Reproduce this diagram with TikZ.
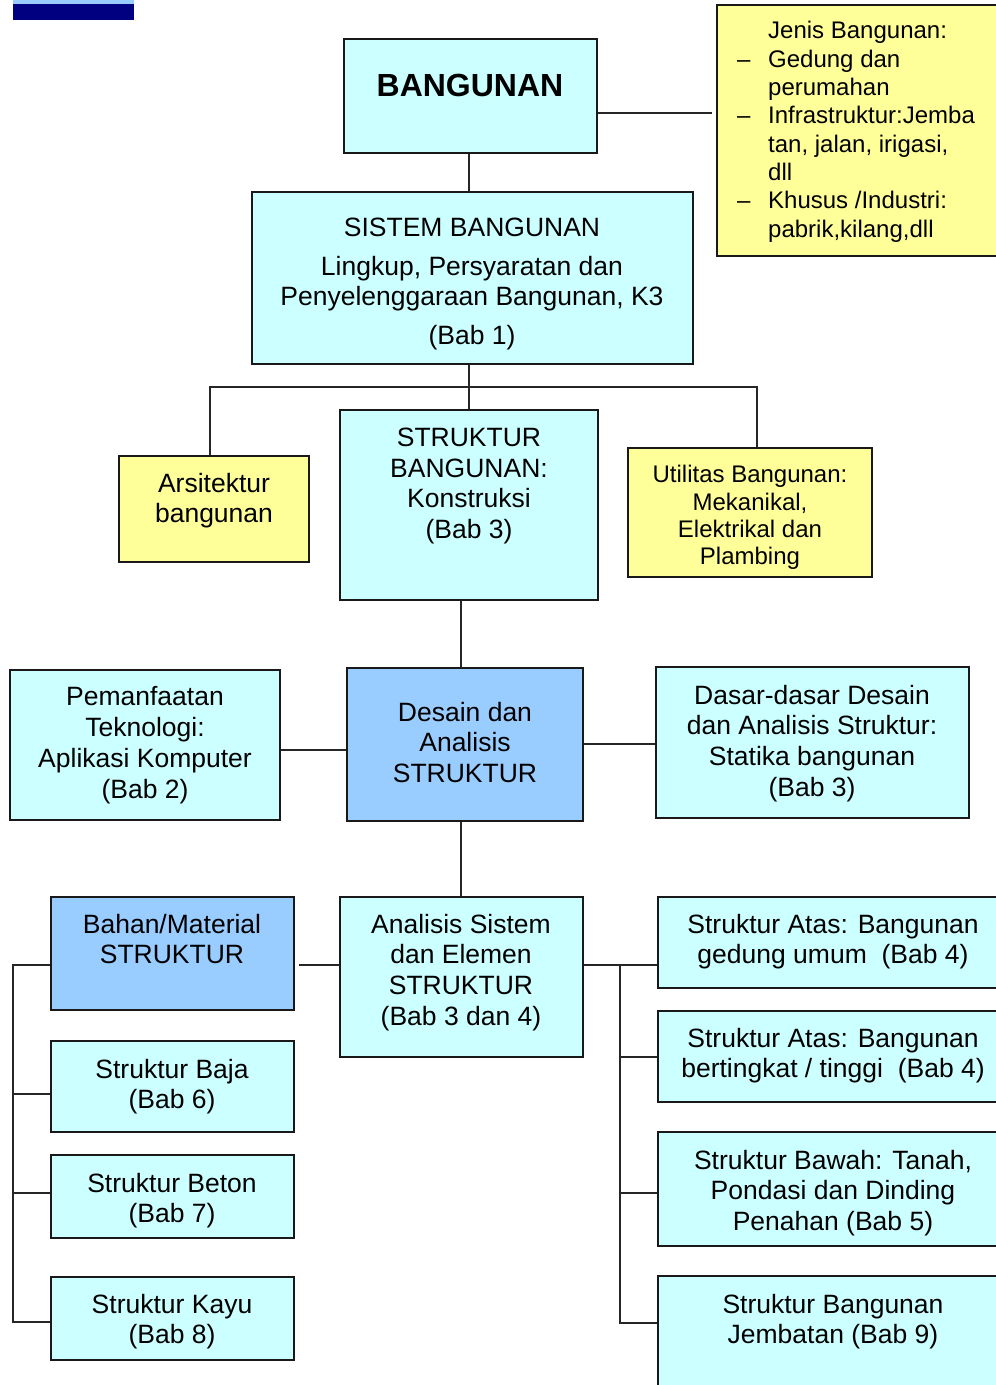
\documentclass[tikz,border=0pt]{standalone}
\usepackage{fontspec}
\setmainfont{Liberation Sans}
\usetikzlibrary{fit}
\definecolor{cyanf}{HTML}{CCFFFF}
\definecolor{yellf}{HTML}{FFFF99}
\definecolor{bluef}{HTML}{99CCFF}
\definecolor{navy}{HTML}{000080}
\tikzset{
  box/.style={draw=black!90, line width=1.9pt, inner sep=0pt},
  cyanbox/.style={box, fill=cyanf},
  yellbox/.style={box, fill=yellf},
  bluebox/.style={box, fill=bluef},
  txt/.style={align=center, inner sep=0pt, anchor=north, font=\fontsize{26.5}{30.7}\selectfont},
  smalltxt/.style={txt, font=\fontsize{24}{27.3}\selectfont},
  conn/.style={line width=1.9pt, draw=black!85},
}
\newcommand\mybox[6]{\node[#2, fit={(#3,#4) (#5,#6)}] (#1) {};}
\begin{document}
\begin{tikzpicture}[x=1pt,y=-1pt]
\useasboundingbox (0,0) rectangle (996,1385);
\clip (0,0) rectangle (996,1385);
\fill[white] (0,0) rectangle (996,1385);
% top-left bar
\fill[bluef] (13,0) rectangle (134,4);
\fill[navy] (13,4) rectangle (134,20);

% boxes
\mybox{bang}{cyanbox}{344}{39}{597}{153}
\mybox{jenis}{yellbox}{717}{5}{1012}{256}
\mybox{sis}{cyanbox}{252}{192}{693}{364}
\mybox{arsi}{yellbox}{119}{456}{309}{562}
\mybox{struk}{cyanbox}{340}{410}{598}{600}
\mybox{util}{yellbox}{628}{448}{872}{577}
\mybox{pem}{cyanbox}{10}{670}{280}{820}
\mybox{des}{bluebox}{347}{668}{583}{821}
\mybox{dasar}{cyanbox}{656}{667}{969}{818}
\mybox{anal}{cyanbox}{340}{897}{583}{1057}
\mybox{bahan}{bluebox}{51}{897}{294}{1010}
\mybox{baja}{cyanbox}{51}{1041}{294}{1132}
\mybox{beton}{cyanbox}{51}{1155}{294}{1238}
\mybox{kayu}{cyanbox}{51}{1277}{294}{1360}
\mybox{atas1}{cyanbox}{658}{897}{1012}{988}
\mybox{atas2}{cyanbox}{658}{1011}{1012}{1102}
\mybox{bawah}{cyanbox}{658}{1132}{1012}{1246}
\mybox{jemb}{cyanbox}{658}{1276}{1012}{1400}

% texts
\node[txt, anchor=center, font=\fontsize{32}{36}\selectfont\bfseries] (t-bang) at (470,85) {BANGUNAN};
\node[smalltxt, align=left, anchor=north west, font=\fontsize{24}{28.3}\selectfont] (t-jenis) at (737,21.4) {%
\makebox[31pt][l]{}Jenis Bangunan:\\
\makebox[31pt][l]{\textendash}Gedung dan\\
\makebox[31pt][l]{}perumahan\\
\makebox[31pt][l]{\textendash}Infrastruktur:Jemba\\
\makebox[31pt][l]{}tan, jalan, irigasi,\\
\makebox[31pt][l]{}dll\\
\makebox[31pt][l]{\textendash}Khusus /Industri:\\
\makebox[31pt][l]{}pabrik,kilang,dll};
\node[txt] (t-sis) at (472,217.6) {SISTEM BANGUNAN\\[8pt]Lingkup, Persyaratan dan\\Penyelenggaraan Bangunan, K3\\[8pt](Bab 1)};
\node[txt] (t-arsi) at (214,472.6) {Arsitektur\\bangunan};
\node[txt] (t-struk) at (469,427.6) {STRUKTUR\\BANGUNAN:\\Konstruksi\\(Bab 3)};
\node[smalltxt] (t-util) at (750,465.4) {Utilitas Bangunan:\\Mekanikal,\\Elektrikal dan\\Plambing};
\node[txt] (t-pem) at (145,686.6) {Pemanfaatan\\Teknologi:\\Aplikasi Komputer\\(Bab 2)};
\node[txt] (t-des) at (465,701.6) {Desain dan\\Analisis\\STRUKTUR};
\node[txt] (t-dasar) at (812,684.6) {Dasar-dasar Desain\\dan Analisis Struktur:\\Statika bangunan\\(Bab 3)};
\node[txt] (t-anal) at (461,913.6) {Analisis Sistem\\dan Elemen\\STRUKTUR\\(Bab 3 dan 4)};
\node[txt] (t-bahan) at (172,913.6) {Bahan/Material\\STRUKTUR};
\node[txt] (t-baja) at (172,1058.6) {Struktur Baja\\(Bab 6)};
\node[txt] (t-beton) at (172,1172.6) {Struktur Beton\\(Bab 7)};
\node[txt] (t-kayu) at (172,1293.6) {Struktur Kayu\\(Bab 8)};
\node[txt] (t-atas1) at (833,913.6) {Struktur Atas: Bangunan\\gedung umum\ \ (Bab 4)};
\node[txt] (t-atas2) at (833,1027.6) {Struktur Atas: Bangunan\\bertingkat / tinggi\ \ (Bab 4)};
\node[txt] (t-bawah) at (833,1149.6) {Struktur Bawah: Tanah,\\Pondasi dan Dinding\\Penahan (Bab 5)};
\node[txt] (t-jemb) at (833,1293.6) {Struktur Bangunan\\Jembatan (Bab 9)};

% connector helper coordinates
\coordinate (busA) at (469,387);
\coordinate (busAl) at (210,387);
\coordinate (busAr) at (757,387);
\coordinate (yJ) at (0,113);
\coordinate (xS) at (461,0);
\coordinate (yP) at (0,750);
\coordinate (yD) at (0,744);
\coordinate (tl1) at (13,965);
\coordinate (tl2) at (13,1094);
\coordinate (tl3) at (13,1193);
\coordinate (tl4) at (13,1322);
\coordinate (tr1) at (620,965);
\coordinate (tr2) at (620,1057);
\coordinate (tr3) at (620,1193);
\coordinate (tr4) at (620,1323);
\coordinate (xB) at (299,0);

% connectors
\draw[conn] (bang.south -| busA) -- (sis.north -| busA);
\draw[conn] (sis.south -| busA) -- (struk.north -| busA);
\draw[conn] (arsi.north -| busAl) -- (busAl) -- (busAr) -- (util.north -| busAr);
\draw[conn] (bang.east |- yJ) -- ([xshift=-4pt]jenis.west |- yJ);
\draw[conn] (struk.south -| xS) -- (des.north -| xS);
\draw[conn] (pem.east |- yP) -- (des.west |- yP);
\draw[conn] (des.east |- yD) -- (dasar.west |- yD);
\draw[conn] (des.south -| xS) -- (anal.north -| xS);
\draw[conn] (xB |- tl1) -- (anal.west |- tl1);
\draw[conn] (bahan.west |- tl1) -- (tl1) -- (tl4) -- (kayu.west |- tl4);
\draw[conn] (tl2) -- (baja.west |- tl2);
\draw[conn] (tl3) -- (beton.west |- tl3);
\draw[conn] (anal.east |- tr1) -- (atas1.west |- tr1);
\draw[conn] (tr1) -- (tr4) -- (jemb.west |- tr4);
\draw[conn] (tr2) -- (atas2.west |- tr2);
\draw[conn] (tr3) -- (bawah.west |- tr3);
\end{tikzpicture}
\end{document}
